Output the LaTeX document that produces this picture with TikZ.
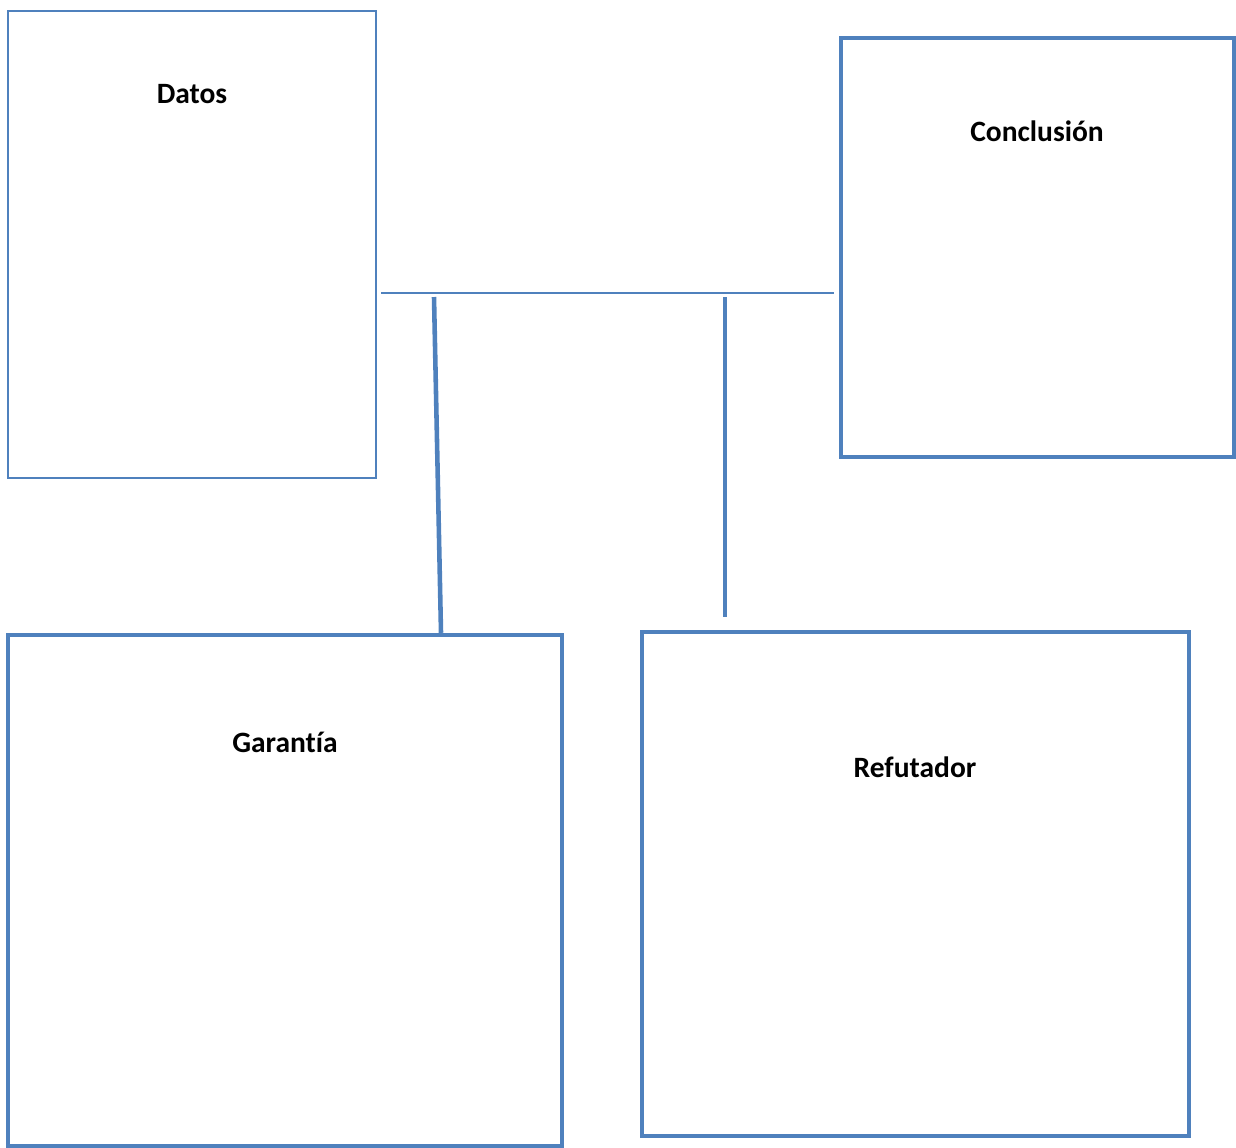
\documentclass[tikz,border=0pt]{standalone}
\usepackage{fontspec}
\setmainfont{Carlito}[Ligatures=NoCommon]
\usepackage{tikz}
\usetikzlibrary{positioning}
\definecolor{boxblue}{HTML}{4F81BD}

\begin{document}
\begin{tikzpicture}[x=0.02cm,y=-0.02cm]
	\tikzstyle{thinbox}=[rectangle,draw=boxblue,line width=1.1pt,inner sep=0pt]
	\tikzstyle{thickbox}=[rectangle,draw=boxblue,line width=2.6pt,inner sep=0pt]
	\tikzstyle{lbl}=[font=\fontsize{16.8}{20}\selectfont\bfseries,inner sep=0pt]
	\useasboundingbox (0,0) rectangle (1236,1147);
		\node[thinbox,minimum width=7.36cm,minimum height=9.34cm] (datos) at (192,244.5) {};
		\node[thickbox,minimum width=7.86cm,minimum height=8.38cm] (concl) at (1037.5,247.5) {};
		\node[thickbox,minimum width=11.08cm,minimum height=10.22cm] (garan) at (285,890.5) {};
		\node[thickbox,minimum width=10.94cm,minimum height=10.08cm] (refut) at (915.5,884) {};
		\node[lbl] (datoslbl) at (192,94) {Datos};
		\node[lbl] (concllbl) at (1037,131) {Conclusión};
		\node[lbl] (garanlbl) at (285,742) {Garantía};
		\node[lbl] (refutlbl) at (915,767) {Refutador};
		\coordinate (h1) at (381,293);
		\coordinate (h2) at (834,293);
		\coordinate (g1) at (434,297);
		\coordinate (r1) at (725,297);
		\coordinate (r2) at (725,617);
			\draw[boxblue,line width=1.1pt] (h1) -- (h2);
			\draw[boxblue,line width=2.6pt] (g1) -- (garan.north -| 441,0);
			\draw[boxblue,line width=2.6pt] (r1) -- (r2);
\end{tikzpicture}
\end{document}
